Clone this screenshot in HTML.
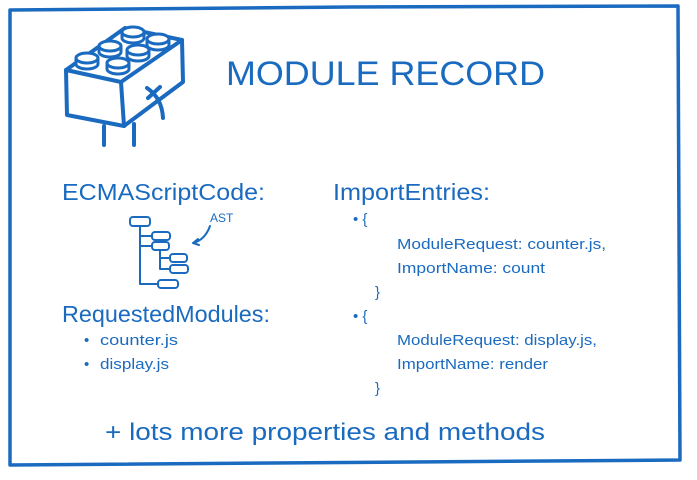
<!DOCTYPE html>
<html><head><style>body{margin:0;background:#fff}svg{display:block}text{font-family:"Liberation Sans",sans-serif;fill:#1a6bc0}</style></head>
<body>
<svg width="697" height="480" viewBox="0 0 697 480">
<g fill="none" stroke="#1a6bc0" stroke-width="4" stroke-linecap="round" stroke-linejoin="round">
<path d="M10 10 Q200 8 350 7 T678 6 L680 460 Q400 462 10 465 Z" stroke-width="3.5"/>
<!-- brick -->
<path d="M66 70 L121 82 L182 40 L183 82 L124 126 L67 115 Z"/>
<path d="M66 70 L125 28 L182 40"/>
<path d="M121 82 L124 126"/>
<path d="M147 88 Q162 98 163 118"/>
<path d="M148 98 L160 87"/>
<path d="M104 126 L104 145 M134 124 L134 145"/>
<g stroke-width="3" fill="#fff">
<path d="M76 58 v6 a11 5 0 0 0 22 0 v-6"/><ellipse cx="87" cy="58" rx="11" ry="5"/>
<path d="M99 46 v6 a11 5 0 0 0 22 0 v-6"/><ellipse cx="110" cy="46" rx="11" ry="5"/>
<path d="M122 32 v6 a11 5 0 0 0 22 0 v-6"/><ellipse cx="133" cy="32" rx="11" ry="5"/>
<path d="M147 39 v6 a11 5 0 0 0 22 0 v-6"/><ellipse cx="158" cy="39" rx="11" ry="5"/>
<path d="M127 50 v6 a11 5 0 0 0 22 0 v-6"/><ellipse cx="138" cy="50" rx="11" ry="5"/>
<path d="M107 63 v6 a11 5 0 0 0 22 0 v-6"/><ellipse cx="118" cy="63" rx="11" ry="5"/>
</g>
<!-- AST tree -->
<g stroke-width="2">
<rect x="130" y="217" width="20" height="9" rx="3"/>
<rect x="152" y="232" width="18" height="8" rx="3"/>
<rect x="152" y="242" width="17" height="8" rx="3"/>
<rect x="170" y="254" width="17" height="8" rx="3"/>
<rect x="170" y="265" width="18" height="8" rx="3"/>
<rect x="158" y="280" width="20" height="8" rx="3"/>
<path d="M140 226 V284 H158 M140 236 H152 M140 246 H152 M160 250 V269 H170 M160 258 H170"/>
<path d="M210 226 Q205 240 193 243 M193 243 l5 -4 M193 243 l6 2"/>
</g>
</g>
<text x="226" y="85" font-size="34" textLength="319" lengthAdjust="spacingAndGlyphs">MODULE  RECORD</text>
<text x="210" y="222" font-size="12">AST</text>
<text x="62" y="200" font-size="23" textLength="203" lengthAdjust="spacingAndGlyphs">ECMAScriptCode:</text>
<text x="62" y="322" font-size="23" textLength="208" lengthAdjust="spacingAndGlyphs">RequestedModules:</text>
<text x="333" y="200" font-size="23" textLength="157" lengthAdjust="spacingAndGlyphs">ImportEntries:</text>
<g font-size="15">
<text x="84" y="345">•</text><text x="100" y="345" textLength="78" lengthAdjust="spacingAndGlyphs">counter.js</text>
<text x="84" y="369">•</text><text x="100" y="369" textLength="69" lengthAdjust="spacingAndGlyphs">display.js</text>
<text x="353" y="224">•  {</text>
<text x="397" y="249" textLength="209" lengthAdjust="spacingAndGlyphs">ModuleRequest:  counter.js,</text>
<text x="397" y="273" textLength="148" lengthAdjust="spacingAndGlyphs">ImportName:  count</text>
<text x="375" y="297">}</text>
<text x="353" y="321">•  {</text>
<text x="397" y="345" textLength="200" lengthAdjust="spacingAndGlyphs">ModuleRequest:  display.js,</text>
<text x="397" y="369" textLength="151" lengthAdjust="spacingAndGlyphs">ImportName:  render</text>
<text x="375" y="393">}</text>
</g>
<text x="105" y="440" font-size="24" textLength="440" lengthAdjust="spacingAndGlyphs">+  lots  more  properties  and  methods</text>
</svg>
</body></html>
